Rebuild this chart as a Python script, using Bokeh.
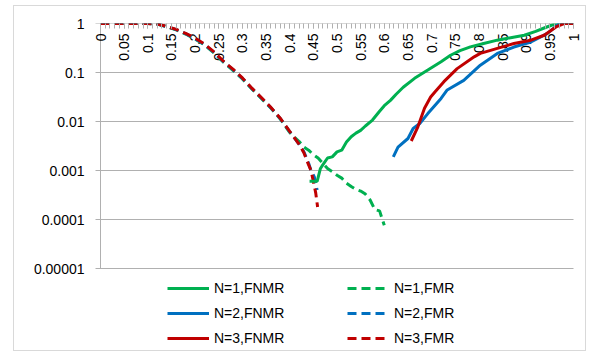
import math
from bokeh.plotting import figure
from bokeh.models import FixedTicker, CustomJSTickFormatter, Legend, LegendItem
from bokeh.core.properties import value
from bokeh.embed import file_html
from bokeh.resources import INLINE

# ---------------- data ----------------
xtick_vals = [0, 0.05, 0.1, 0.15, 0.2, 0.25, 0.3, 0.35, 0.4, 0.45, 0.5,
              0.55, 0.6, 0.65, 0.7, 0.75, 0.8, 0.85, 0.9, 0.95, 1.0]
xtick_labels = ["0", "0.05", "0.1", "0.15", "0.2", "0.25", "0.3", "0.35", "0.4", "0.45", "0.5",
                "0.55", "0.6", "0.65", "0.7", "0.75", "0.8", "0.85", "0.9", "0.95", "1"]
xminor_vals = [i / 100 for i in range(101)]
ytick_vals = [1e-5, 1e-4, 1e-3, 1e-2, 1e-1, 1]

# FMR (dashed)
fmr1_x = [0, 0.05, 0.10, 0.12, 0.14, 0.16, 0.18, 0.20, 0.22, 0.24, 0.26, 0.28, 0.30, 0.32,
          0.34, 0.36, 0.38, 0.40, 0.41, 0.42, 0.43, 0.44, 0.45, 0.46, 0.47, 0.48, 0.49, 0.50,
          0.51, 0.52, 0.53, 0.54, 0.55, 0.56, 0.57, 0.58, 0.59, 0.60]
fmr1_y = [1, 1, 1, 0.97, 0.86, 0.74, 0.61, 0.48, 0.365, 0.25, 0.162, 0.111, 0.074, 0.046,
          0.0295, 0.0188, 0.0113, 0.0060, 0.0048, 0.0039, 0.0030, 0.0026, 0.0021, 0.0018,
          0.0014, 0.0011, 0.00095, 0.0008, 0.0007, 0.00055, 0.00047, 0.00041, 0.00038,
          0.00033, 0.00025, 0.00016, 0.000150, 0.000076]

fmr2_x = [0, 0.05, 0.10, 0.12, 0.14, 0.16, 0.18, 0.20, 0.22, 0.24, 0.26, 0.28, 0.30, 0.32,
          0.34, 0.36, 0.38, 0.40, 0.42, 0.43, 0.44, 0.445, 0.452, 0.458]
fmr2_y = [1, 1, 1, 0.975, 0.865, 0.75, 0.62, 0.49, 0.372, 0.257, 0.166, 0.114, 0.076, 0.047,
          0.0302, 0.0192, 0.0115, 0.0062, 0.0034, 0.0024, 0.0014, 0.0010, 0.00074, 0.0004]

fmr3_x = [0, 0.05, 0.10, 0.12, 0.14, 0.16, 0.18, 0.20, 0.22, 0.24, 0.26, 0.28, 0.30, 0.32,
          0.34, 0.36, 0.38, 0.40, 0.42, 0.43, 0.44, 0.445, 0.45, 0.455, 0.459]
fmr3_y = [1, 1, 1, 0.977, 0.871, 0.759, 0.631, 0.501, 0.380, 0.263, 0.170, 0.117, 0.0776, 0.0479,
          0.0309, 0.0195, 0.0117, 0.0063, 0.0034, 0.0023, 0.0013, 0.0010, 0.0006, 0.00035, 0.00018]

# FNMR (solid)
fnmr1_x = [0.442, 0.458, 0.465, 0.47, 0.48, 0.49, 0.50, 0.51, 0.52, 0.53, 0.54, 0.55, 0.56,
           0.575, 0.59, 0.60, 0.613, 0.625, 0.64, 0.664, 0.692, 0.72, 0.74, 0.76, 0.782, 0.81,
           0.839, 0.87, 0.896, 0.92, 0.938, 0.963, 1.0]
fnmr1_y = [0.0006, 0.0006, 0.0011, 0.0013, 0.0018, 0.0019, 0.0024, 0.0026, 0.0038, 0.0049,
           0.0058, 0.0066, 0.0081, 0.0107, 0.0162, 0.021, 0.027, 0.036, 0.050, 0.076, 0.112,
           0.166, 0.225, 0.28, 0.333, 0.39, 0.457, 0.52, 0.575, 0.69, 0.81, 1.0, 1.0]

fnmr2_x = [0.619, 0.629, 0.65, 0.661, 0.675, 0.692, 0.72, 0.733, 0.768, 0.803, 0.839, 0.874,
           0.91, 0.945, 0.97, 1.0]
fnmr2_y = [0.0019, 0.003, 0.0045, 0.0072, 0.0091, 0.0145, 0.0295, 0.044, 0.069, 0.141, 0.245,
           0.331, 0.42, 0.63, 1.0, 1.0]

fnmr3_x = [0.657, 0.671, 0.685, 0.698, 0.707, 0.726, 0.754, 0.79, 0.803, 0.839, 0.874, 0.91,
           0.938, 0.963, 0.98, 1.0]
fnmr3_y = [0.004, 0.0078, 0.0186, 0.0316, 0.040, 0.065, 0.12, 0.209, 0.245, 0.31, 0.39, 0.457,
           0.575, 0.85, 1.0, 1.0]

GREEN = "#00B050"
BLUE = "#0070C0"
RED = "#C00000"
GRID = "#B0B0B0"
BORDER = "#D9D9D9"
FONT = "Liberation Sans"

# ---------------- geometry (pixels) ----------------
W, H = 590, 352
PX_PER_UNIT = 473.0          # x: 0..1 spans 473 px
PX_PER_DECADE = 49.0         # y: one decade spans 49 px
LEFT, TOP = 94, 23           # frame left / top edges
x_lo = -(100 - LEFT) / PX_PER_UNIT
x_hi = (W - 100) / PX_PER_UNIT
y_lo = 10 ** (-(H - TOP) / PX_PER_DECADE)
TICK = 5 / PX_PER_UNIT

p = figure(width=W, height=H, x_range=(x_lo, x_hi), y_range=(y_lo, 1),
           y_axis_type="log", x_axis_location="above", output_backend="svg",
           toolbar_location=None,
           min_border_left=LEFT, min_border_right=0, min_border_top=TOP, min_border_bottom=0)
p.outline_line_color = None
p.background_fill_color = None
p.border_fill_color = None
grad = "linear-gradient(%s,%s)" % (BORDER, BORDER)
p.styles = {
    "background-color": "white",
    "background-image": ", ".join([grad] * 4),
    "background-size": "573px 1px, 573px 1px, 1px 346px, 1px 346px",
    "background-position": "13px 5px, 13px 350px, 13px 5px, 585px 5px",
    "background-repeat": "no-repeat",
}

# y axis (labels only; ticks + grid drawn as segments)
p.yaxis.ticker = FixedTicker(ticks=ytick_vals, minor_ticks=[])
p.yaxis.formatter = CustomJSTickFormatter(
    code="if (tick >= 1) { return '1'; } return tick.toFixed(Math.round(-Math.log10(tick)));")
p.yaxis.axis_line_color = None
p.yaxis.major_tick_line_color = None
p.yaxis.major_tick_out = 0
p.yaxis.major_tick_in = 0
p.yaxis.minor_tick_line_color = None
p.yaxis.major_label_standoff = 10
p.yaxis.major_label_text_font = FONT
p.yaxis.major_label_text_font_size = "14px"
p.yaxis.major_label_text_color = "#000000"

# x axis (top, ticks inward, labels drawn inside)
p.xaxis.ticker = FixedTicker(ticks=xtick_vals, minor_ticks=xminor_vals)
p.xaxis.formatter = CustomJSTickFormatter(code="return '';")
p.xaxis.axis_line_color = None
p.xaxis.major_tick_line_color = GRID
p.xaxis.minor_tick_line_color = GRID
p.xaxis.major_tick_in = 5
p.xaxis.major_tick_out = 0
p.xaxis.minor_tick_in = 5
p.xaxis.minor_tick_out = 0
p.xaxis.major_label_standoff = 0

p.xgrid.visible = False
p.ygrid.visible = False

# horizontal grid lines (with the outward y ticks) and the vertical value axis line
p.segment(x0=[-TICK] * len(ytick_vals), x1=[1] * len(ytick_vals), y0=ytick_vals, y1=ytick_vals,
          line_color=GRID, line_width=1)
p.segment(x0=[0], x1=[0], y0=[min(ytick_vals)], y1=[max(ytick_vals)],
          line_color=GRID, line_width=1)

p.text(x=xtick_vals, y=[1] * len(xtick_vals), text=xtick_labels, angle=math.pi / 2,
       text_align="right", text_baseline="middle", y_offset=10,
       text_font=value(FONT), text_font_size="14px", text_color="#000000")

LW = 3
DASH = "9 5"
d1 = p.line(fmr1_x, fmr1_y, line_color=GREEN, line_width=LW, line_dash=DASH)
d2 = p.line(fmr2_x, fmr2_y, line_color=BLUE, line_width=LW, line_dash=DASH)
d3 = p.line(fmr3_x, fmr3_y, line_color=RED, line_width=LW, line_dash=DASH)
s1 = p.line(fnmr1_x, fnmr1_y, line_color=GREEN, line_width=LW)
s2 = p.line(fnmr2_x, fnmr2_y, line_color=BLUE, line_width=LW)
s3 = p.line(fnmr3_x, fnmr3_y, line_color=RED, line_width=LW)

legend = Legend(items=[
    LegendItem(label="N=1,FNMR", renderers=[s1]),
    LegendItem(label="N=2,FNMR", renderers=[s2]),
    LegendItem(label="N=3,FNMR", renderers=[s3]),
    LegendItem(label="N=1,FMR", renderers=[d1]),
    LegendItem(label="N=2,FMR", renderers=[d2]),
    LegendItem(label="N=3,FMR", renderers=[d3]),
], location=(73, 4), orientation="vertical", ncols=2,
    glyph_width=42, glyph_height=20, label_height=20, label_width=128,
    label_standoff=5, spacing=5, padding=2, margin=0,
    border_line_color=None, background_fill_alpha=0,
    label_text_font=FONT, label_text_font_size="14px", label_text_color="#000000")
p.add_layout(legend)

open("out.html", "w").write(file_html(p, INLINE))
